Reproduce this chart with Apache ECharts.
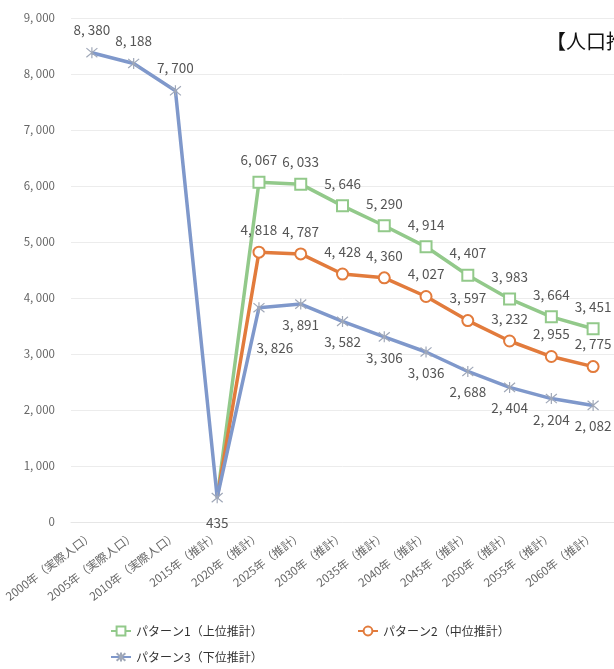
<!DOCTYPE html>
<html>
<head>
<meta charset="utf-8">
<script src="https://cdn.jsdelivr.net/npm/echarts@6/dist/echarts.min.js"></script>
<style>
html,body{margin:0;padding:0;background:#fff;}
#main{width:614px;height:669px;}
</style>
</head>
<body>
<div id="main"></div>
<script>
const categories = ['2000年（実際人口）','2005年（実際人口）','2010年（実際人口）','2015年（推計）','2020年（推計）','2025年（推計）','2030年（推計）','2035年（推計）','2040年（推計）','2045年（推計）','2050年（推計）','2055年（推計）','2060年（推計）'];
const pattern1 = [null, null, null, 435, 6067, 6033, 5646, 5290, 4914, 4407, 3983, 3664, 3451];
const pattern2 = [null, null, null, 435, 4818, 4787, 4428, 4360, 4027, 3597, 3232, 2955, 2775];
const pattern3 = [8380, 8188, 7700, 435, 3826, 3891, 3582, 3306, 3036, 2688, 2404, 2204, 2082];
const seriesNames = ['パターン1（上位推計）','パターン2（中位推計）','パターン3（下位推計）'];
const yTicks = [0, 1000, 2000, 3000, 4000, 5000, 6000, 7000, 8000, 9000];

const fmt = n => String(n).replace(/\B(?=(\d{3})+(?!\d))/g, ', ');
const FONT = 'Noto Sans CJK JP';
const lblStyle = {color:'#555', fontSize:13.5, fontFamily:FONT};

function buildData(arr, hideIdx, extra) {
  return arr.map((v, i) => {
    if (v === null) return null;
    const item = {value: v};
    if (hideIdx.includes(i)) { item.symbol = 'none'; item.label = {show:false}; }
    if (extra && extra[i]) Object.assign(item, extra[i]);
    return item;
  });
}

const legendText = {color:'#333', fontSize:12, fontFamily:FONT};
const chart = echarts.init(document.getElementById('main'));
chart.setOption({
  animation:false,
  backgroundColor:'#fff',
  grid:{left:71, right:-6, top:18, bottom:147},
  graphic:[{type:'text', left:546, top:31, style:{text:'【人口推計】', fontSize:20, fontFamily:FONT, fill:'#111'}}],
  xAxis:{
    type:'category', data:categories, boundaryGap:true,
    axisLine:{show:true, lineStyle:{color:'#e6e6e6'}}, axisTick:{show:false},
    axisLabel:{rotate:37, color:'#666', fontSize:11.5, fontFamily:FONT, margin:12, interval:0}
  },
  yAxis:{
    type:'value', min:yTicks[0], max:yTicks[yTicks.length-1], interval:1000,
    axisLine:{show:false}, axisTick:{show:false},
    splitLine:{lineStyle:{color:'#ececec'}},
    axisLabel:{color:'#666', fontSize:11.5, fontFamily:FONT, margin:16, formatter:v=>fmt(v)}
  },
  legend:[
    {data:[seriesNames[0]], left:110, top:625, padding:0, itemWidth:20, itemHeight:11, textStyle:legendText},
    {data:[seriesNames[1]], left:357, top:625, padding:0, itemWidth:20, itemHeight:11, textStyle:legendText},
    {data:[seriesNames[2]], left:110, top:651, padding:0, itemWidth:20, itemHeight:11, textStyle:legendText}
  ],
  series:[
    {name:seriesNames[0], type:'line', data:buildData(pattern1,[3]), symbol:'emptyRect', symbolSize:11,
     lineStyle:{color:'#92c98a', width:3.5}, itemStyle:{color:'#92c98a', borderWidth:1.5},
     label:{show:true, position:'top', distance:9, formatter:p=>fmt(p.value), ...lblStyle}, z:2},
    {name:seriesNames[1], type:'line', data:buildData(pattern2,[3]), symbol:'emptyCircle', symbolSize:11,
     lineStyle:{color:'#e27b3c', width:3.5}, itemStyle:{color:'#e27b3c', borderWidth:1.5},
     label:{show:true, position:'top', distance:9, formatter:p=>fmt(p.value), ...lblStyle}, z:3},
    {name:seriesNames[2], type:'line',
     data:buildData(pattern3,[],{
       0:{label:{position:'top', distance:10}},
       1:{label:{position:'top', distance:10}},
       2:{label:{position:'top', distance:10}},
       3:{label:{position:'bottom', distance:12}},
       4:{label:{position:'bottom', distance:27, offset:[16,0]}}}),
     symbol:'path://M0,0L10,10M10,0L0,10M5,-1L5,11', symbolSize:11,
     lineStyle:{color:'#7f98cb', width:3.5}, itemStyle:{color:'#7f98cb', borderColor:'#a0a8b8', borderWidth:1.2},
     label:{show:true, position:'bottom', distance:8, formatter:p=>fmt(p.value), ...lblStyle}, z:4}
  ]
});
</script>
</body>
</html>
